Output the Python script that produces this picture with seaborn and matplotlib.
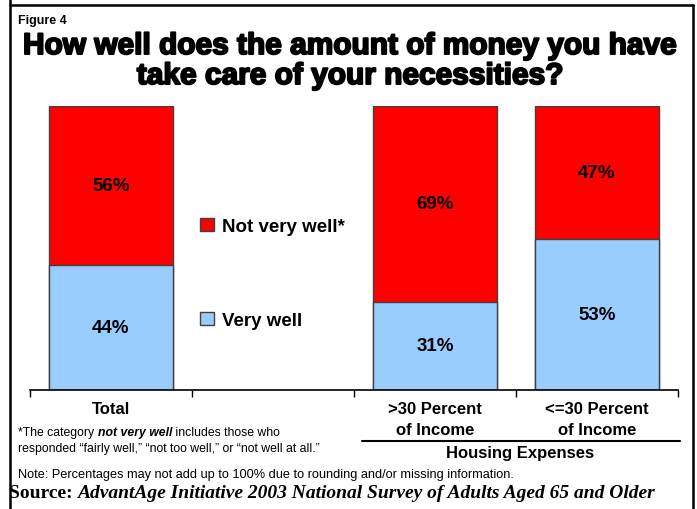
import matplotlib
matplotlib.use("Agg")
import matplotlib.pyplot as plt
import matplotlib.patheffects as pe
from matplotlib.lines import Line2D
from matplotlib.patches import Patch
import seaborn as sns
import pandas as pd

# ---- data ----
categories = ["Total", "gap", ">30 Percent\nof Income", "<=30 Percent\nof Income"]
bar_categories = ["Total", ">30 Percent\nof Income", "<=30 Percent\nof Income"]
very_well = [44, 31, 53]
not_very_well = [56, 69, 47]
tick_labels = ["Total", "", ">30 Percent\nof Income", "<=30 Percent\nof Income"]
series_names = ["Not very well*", "Very well"]
colors = {"Not very well*": "#FF0000", "Very well": "#99CCFF"}

df = pd.DataFrame({
    "category": bar_categories,
    "very": very_well,
    "notvery": not_very_well,
})
df["stack_top"] = df["very"] + df["notvery"]

sns.set_theme(style="white")
plt.rcParams["font.family"] = ["Liberation Sans", "DejaVu Sans"]
plt.rcParams["text.color"] = "black"
plt.rcParams["xtick.color"] = "black"
plt.rcParams["xtick.labelcolor"] = "black"

W, H = 697, 510
fig = plt.figure(figsize=(W / 100, H / 100), dpi=100)
ax = fig.add_axes([30 / W, 1 - 391 / H, 648 / W, 284 / H])

edge = "#404040"
sns.barplot(data=df, x="category", y="stack_top", order=categories,
            color=colors["Not very well*"], saturation=1, width=0.77,
            edgecolor=edge, linewidth=1, ax=ax)
sns.barplot(data=df, x="category", y="very", order=categories,
            color=colors["Very well"], saturation=1, width=0.77,
            edgecolor=edge, linewidth=1, ax=ax)

ax.set_xlim(-0.5, 3.5)
ax.set_ylim(0, df["stack_top"].max())
ax.set_xlabel("")
ax.set_ylabel("")
ax.set_yticks([])
for s in ["left", "right", "top"]:
    ax.spines[s].set_visible(False)
ax.spines["bottom"].set_color("black")
ax.spines["bottom"].set_linewidth(1.2)

# ticks at boundaries, labels at centers
ax.set_xticks([-0.5, 0.5, 1.5, 2.5, 3.5])
ax.set_xticklabels([])
ax.tick_params(axis="x", which="major", direction="out", length=5, width=1, color="black", bottom=True)
ax.set_xticks([0, 1, 2, 3], minor=True)
ax.set_xticklabels(tick_labels, minor=True, fontsize=12, fontweight="bold", linespacing=1.45)
ax.tick_params(axis="x", which="minor", length=0, pad=8)

# value labels
pos = {c: i for i, c in enumerate(categories)}
for c, v, n in zip(bar_categories, very_well, not_very_well):
    x = pos[c]
    ax.text(x, v / 2, f"{v}%", ha="center", va="center", fontsize=13.5, fontweight="bold")
    ax.text(x, v + n / 2, f"{n}%", ha="center", va="center", fontsize=13.5, fontweight="bold")

# legend
handles = [Patch(facecolor=colors[n], edgecolor=edge, linewidth=1) for n in series_names]
leg = fig.legend(handles, series_names, loc="upper left",
                 bbox_to_anchor=(200 / W, 1 - 219 / H), frameon=False,
                 prop={"size": 13.5, "weight": "bold"}, handlelength=0.72, handleheight=0.72,
                 handletextpad=0.45, labelspacing=4.1, borderpad=0, borderaxespad=0)

# title
stroke = [pe.withStroke(linewidth=1.4, foreground="black")]
fig.text(350 / W, 1 - 47 / H, "How well does the amount of money you have", ha="center", va="center",
         fontsize=21.5, fontweight="bold", color="black", path_effects=stroke)
fig.text(350 / W, 1 - 77 / H, "take care of your necessities?", ha="center", va="center",
         fontsize=21.5, fontweight="bold", color="black", path_effects=stroke)
fig.text(18 / W, 1 - 21 / H, "Figure 4", ha="left", va="center", fontsize=9, fontweight="bold")

# housing expenses group line
fig.add_artist(Line2D([362 / W, 680 / W], [1 - 442 / H, 1 - 442 / H], color="black", lw=1.5))
fig.text(520 / W, 1 - 454 / H, "Housing Expenses", ha="center", va="center", fontsize=12, fontweight="bold")

# footnotes
fs = 8.8
fig.canvas.draw()
r = fig.canvas.get_renderer()
t1 = fig.text(18 / W, 1 - 433 / H, "*The category ", ha="left", va="center", fontsize=fs)
bb = t1.get_window_extent(r)
t2 = fig.text(bb.x1 / W, 1 - 433 / H, "not very well", ha="left", va="center", fontsize=fs,
              fontweight="bold", fontstyle="italic")
bb2 = t2.get_window_extent(r)
fig.text(bb2.x1 / W, 1 - 433 / H, " includes those who", ha="left", va="center", fontsize=fs)
fig.text(18 / W, 1 - 449 / H, "responded \u201cfairly well,\u201d \u201cnot too well,\u201d or \u201cnot well at all.\u201d",
         ha="left", va="center", fontsize=fs)
fig.text(18 / W, 1 - 475 / H, "Note: Percentages may not add up to 100% due to rounding and/or missing information.",
         ha="left", va="center", fontsize=9.2)
s1 = fig.text(9 / W, 1 - 494 / H, "Source: ", ha="left", va="center", fontsize=14, fontweight="bold",
              family="Liberation Serif")
bb3 = s1.get_window_extent(r)
fig.text(bb3.x1 / W, 1 - 494 / H, "AdvantAge Initiative 2003 National Survey of Adults Aged 65 and Older",
         ha="left", va="center", fontsize=14, fontweight="bold", fontstyle="italic", family="Liberation Serif")

# frame
for xs, ys in [([10, 10], [0, 512]), ([10, 693], [6, 6]), ([693, 693], [6, 512])]:
    fig.add_artist(Line2D([x / W for x in xs], [1 - y / H for y in ys], color="black", lw=1.8))

fig.savefig("out.png", dpi=100)
